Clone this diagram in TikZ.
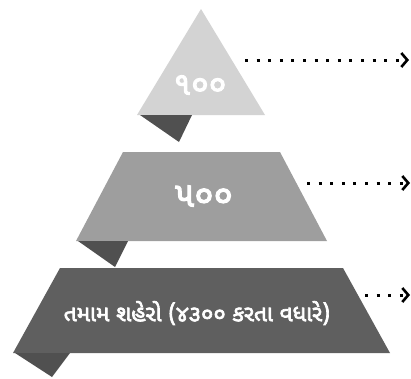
\documentclass[tikz,border=0pt]{standalone}
\usepackage{fontspec}
\usepackage{xcolor}
\usepackage{tikz}
\usetikzlibrary{arrows.meta}
\newfontfamily\gujfont[Script=Gujarati,FakeBold=3]{Noto Sans Gujarati UI}

\definecolor{tierlight}{RGB}{211,211,211}
\definecolor{tiermid}{RGB}{158,158,158}
\definecolor{tierdark}{RGB}{95,95,95}
\definecolor{foldgray}{RGB}{80,80,80}

\tikzset{
    tierlabel/.style={text=white, inner sep=0pt},
    dotarrow/.style={line width=3pt, dash pattern=on 3pt off 8.6pt,
        -{Straight Barb[length=6pt,width=14pt,line width=2.6pt]}}
}

\begin{document}
\begin{tikzpicture}[x=1pt, y=-1pt]
    \useasboundingbox (0,0) rectangle (411,378);

    % Tiers
    \fill[tierlight] (201,9) -- (265,115) -- (137,115) -- cycle;
    \fill[tiermid] (123,152) -- (280,152) -- (327,241) -- (76,241) -- cycle;
    \fill[tierdark] (60,268) -- (343,268) -- (390,353) -- (13,353) -- cycle;

    % Folds under the tiers
    \fill[foldgray] (140,115) -- (192,115) -- (179,142) -- cycle;
    \fill[foldgray] (78,241) -- (128,241) -- (115,267) -- cycle;
    \fill[foldgray] (15,353) -- (70,353) -- (52,377) -- cycle;

    % Labels
    \node[tierlabel, font=\gujfont\fontsize{32}{35}\selectfont] (top) at (200,85) {૧૦૦};
    \node[tierlabel, font=\gujfont\fontsize{35}{38}\selectfont] (mid) at (204,196) {૫૦૦};
    \node[tierlabel, font=\gujfont\fontsize{22.5}{26}\selectfont] (low) at (197,313) {તમામ શહેરો (૪૩૦૦ કરતા વધારે)};

    % Dotted arrows
    \coordinate (topA) at (245,60);
    \coordinate (topB) at (409,60);
    \coordinate (midA) at (307,183);
    \coordinate (midB) at (410,183);
    \coordinate (lowA) at (365,295);
    \coordinate (lowB) at (410,295);
    \draw[dotarrow] (topA) -- (topB);
    \draw[dotarrow] (midA) -- (midB);
    \draw[dotarrow] (lowA) -- (lowB);
\end{tikzpicture}
\end{document}
